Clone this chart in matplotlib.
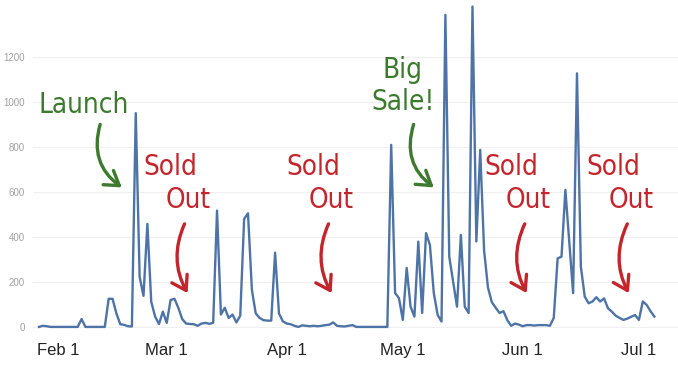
import matplotlib
matplotlib.use("Agg")
import matplotlib.pyplot as plt
import matplotlib.dates as mdates
from matplotlib import font_manager
from matplotlib.ticker import FuncFormatter
import numpy as np
import pandas as pd

# daily units (starts Jan 27)
start = "2019-01-27"
units = [
    0, 5, 3, 0, 0, 0, 0, 0, 0, 0,
    0, 35, 0, 0, 0, 0, 0, 0, 125, 125,
    60, 12, 9, 3, 2, 950, 222, 138, 458, 112,
    46, 13, 68, 18, 120, 125, 85, 35, 15, 13,
    12, 5, 15, 18, 14, 18, 517, 55, 85, 40,
    55, 20, 50, 480, 505, 165, 60, 40, 30, 28,
    28, 330, 60, 25, 15, 12, 5, 0, 7, 5,
    3, 5, 3, 5, 8, 10, 20, 5, 3, 2,
    5, 8, 0, 0, 0, 0, 0, 0, 0, 0,
    0, 809, 151, 128, 31, 262, 90, 46, 379, 62,
    417, 364, 151, 53, 24, 1387, 312, 200, 90, 409,
    90, 62, 1424, 380, 787, 340, 175, 110, 85, 62,
    70, 30, 5, 15, 10, 3, 8, 8, 6, 8,
    8, 8, 5, 40, 305, 312, 609, 380, 150, 1127,
    268, 135, 105, 113, 132, 113, 127, 83, 68, 50,
    40, 31, 37, 45, 53, 31, 113, 98, 70, 46,
]
dates = pd.date_range(start, periods=len(units), freq="D")

y_ticks = [0, 200, 400, 600, 800, 1000, 1200]

# annotations: (text, color, day offset, value)
notes = [
    ("Launch", "green", 11.5, 988),
    ("Sold", "red", 34.0, 712),
    ("Out", "red", 38.5, 562),
    ("Sold", "red", 71.0, 712),
    ("Out", "red", 75.5, 562),
    ("Big", "green", 93.8, 1140),
    ("Sale!", "green", 94.0, 1000),
    ("Sold", "red", 122.0, 712),
    ("Out", "red", 126.5, 562),
    ("Sold", "red", 148.5, 712),
    ("Out", "red", 153.0, 562),
]
# arrows: (color, from day, from value, to day, to value, curvature)
arrows = [
    ("green", 15.8, 900, 21.4, 620, 0.35),
    ("red", 37.6, 458, 38.4, 150, 0.25),
    ("red", 74.8, 458, 75.6, 150, 0.25),
    ("green", 96.8, 900, 102.0, 620, 0.35),
    ("red", 125.5, 458, 126.0, 150, 0.25),
    ("red", 152.0, 458, 152.4, 150, 0.25),
]
colors = {"red": "#c4252c", "green": "#3c7a2d"}

names = {f.name for f in font_manager.fontManager.ttflist}
hand = "Liberation Sans Narrow" if "Liberation Sans Narrow" in names else "DejaVu Sans"

fig = plt.figure(figsize=(6.78, 3.66), dpi=100)
ax = fig.add_axes([33 / 678, 33 / 366, 645 / 678, 333 / 366])

ax.plot(dates, units, color="#4e73a6", lw=1.7, solid_joinstyle="round")

t0 = pd.Timestamp(start)
ax.set_xlim(t0 - pd.Timedelta(days=1.55), t0 + pd.Timedelta(days=165.1))
ax.set_ylim(-27, 1453)

ax.set_yticks(y_ticks)
ax.grid(axis="y", color="#f0f0f0", lw=0.8)
ax.set_axisbelow(True)
for s in ax.spines.values():
    s.set_visible(False)

ax.xaxis.set_major_locator(mdates.MonthLocator(bymonth=range(2, 8)))
ax.xaxis.set_major_formatter(
    FuncFormatter(lambda v, p: f"{mdates.num2date(v):%b} {mdates.num2date(v).day}"))
ax.tick_params(axis="x", length=0, pad=7, labelsize=12, labelcolor="#222222")
ax.tick_params(axis="y", length=0, pad=6, labelsize=7, labelcolor="#a0a0a0")
for lab in ax.get_xticklabels() + ax.get_yticklabels():
    lab.set_family("Liberation Sans")

for txt, c, d, v in notes:
    ax.text(t0 + pd.Timedelta(days=d), v, txt, color=colors[c], fontsize=20,
            family=hand, fontstretch="condensed", ha="center", va="center")

for c, d1, v1, d2, v2, rad in arrows:
    ax.annotate("", xy=(t0 + pd.Timedelta(days=d2), v2),
                xytext=(t0 + pd.Timedelta(days=d1), v1),
                arrowprops=dict(arrowstyle="->,head_length=0.7,head_width=0.45",
                                color=colors[c], lw=2.4,
                                connectionstyle=f"arc3,rad={rad}",
                                mutation_scale=14, shrinkA=0, shrinkB=0))

fig.savefig("out.png", dpi=100)
